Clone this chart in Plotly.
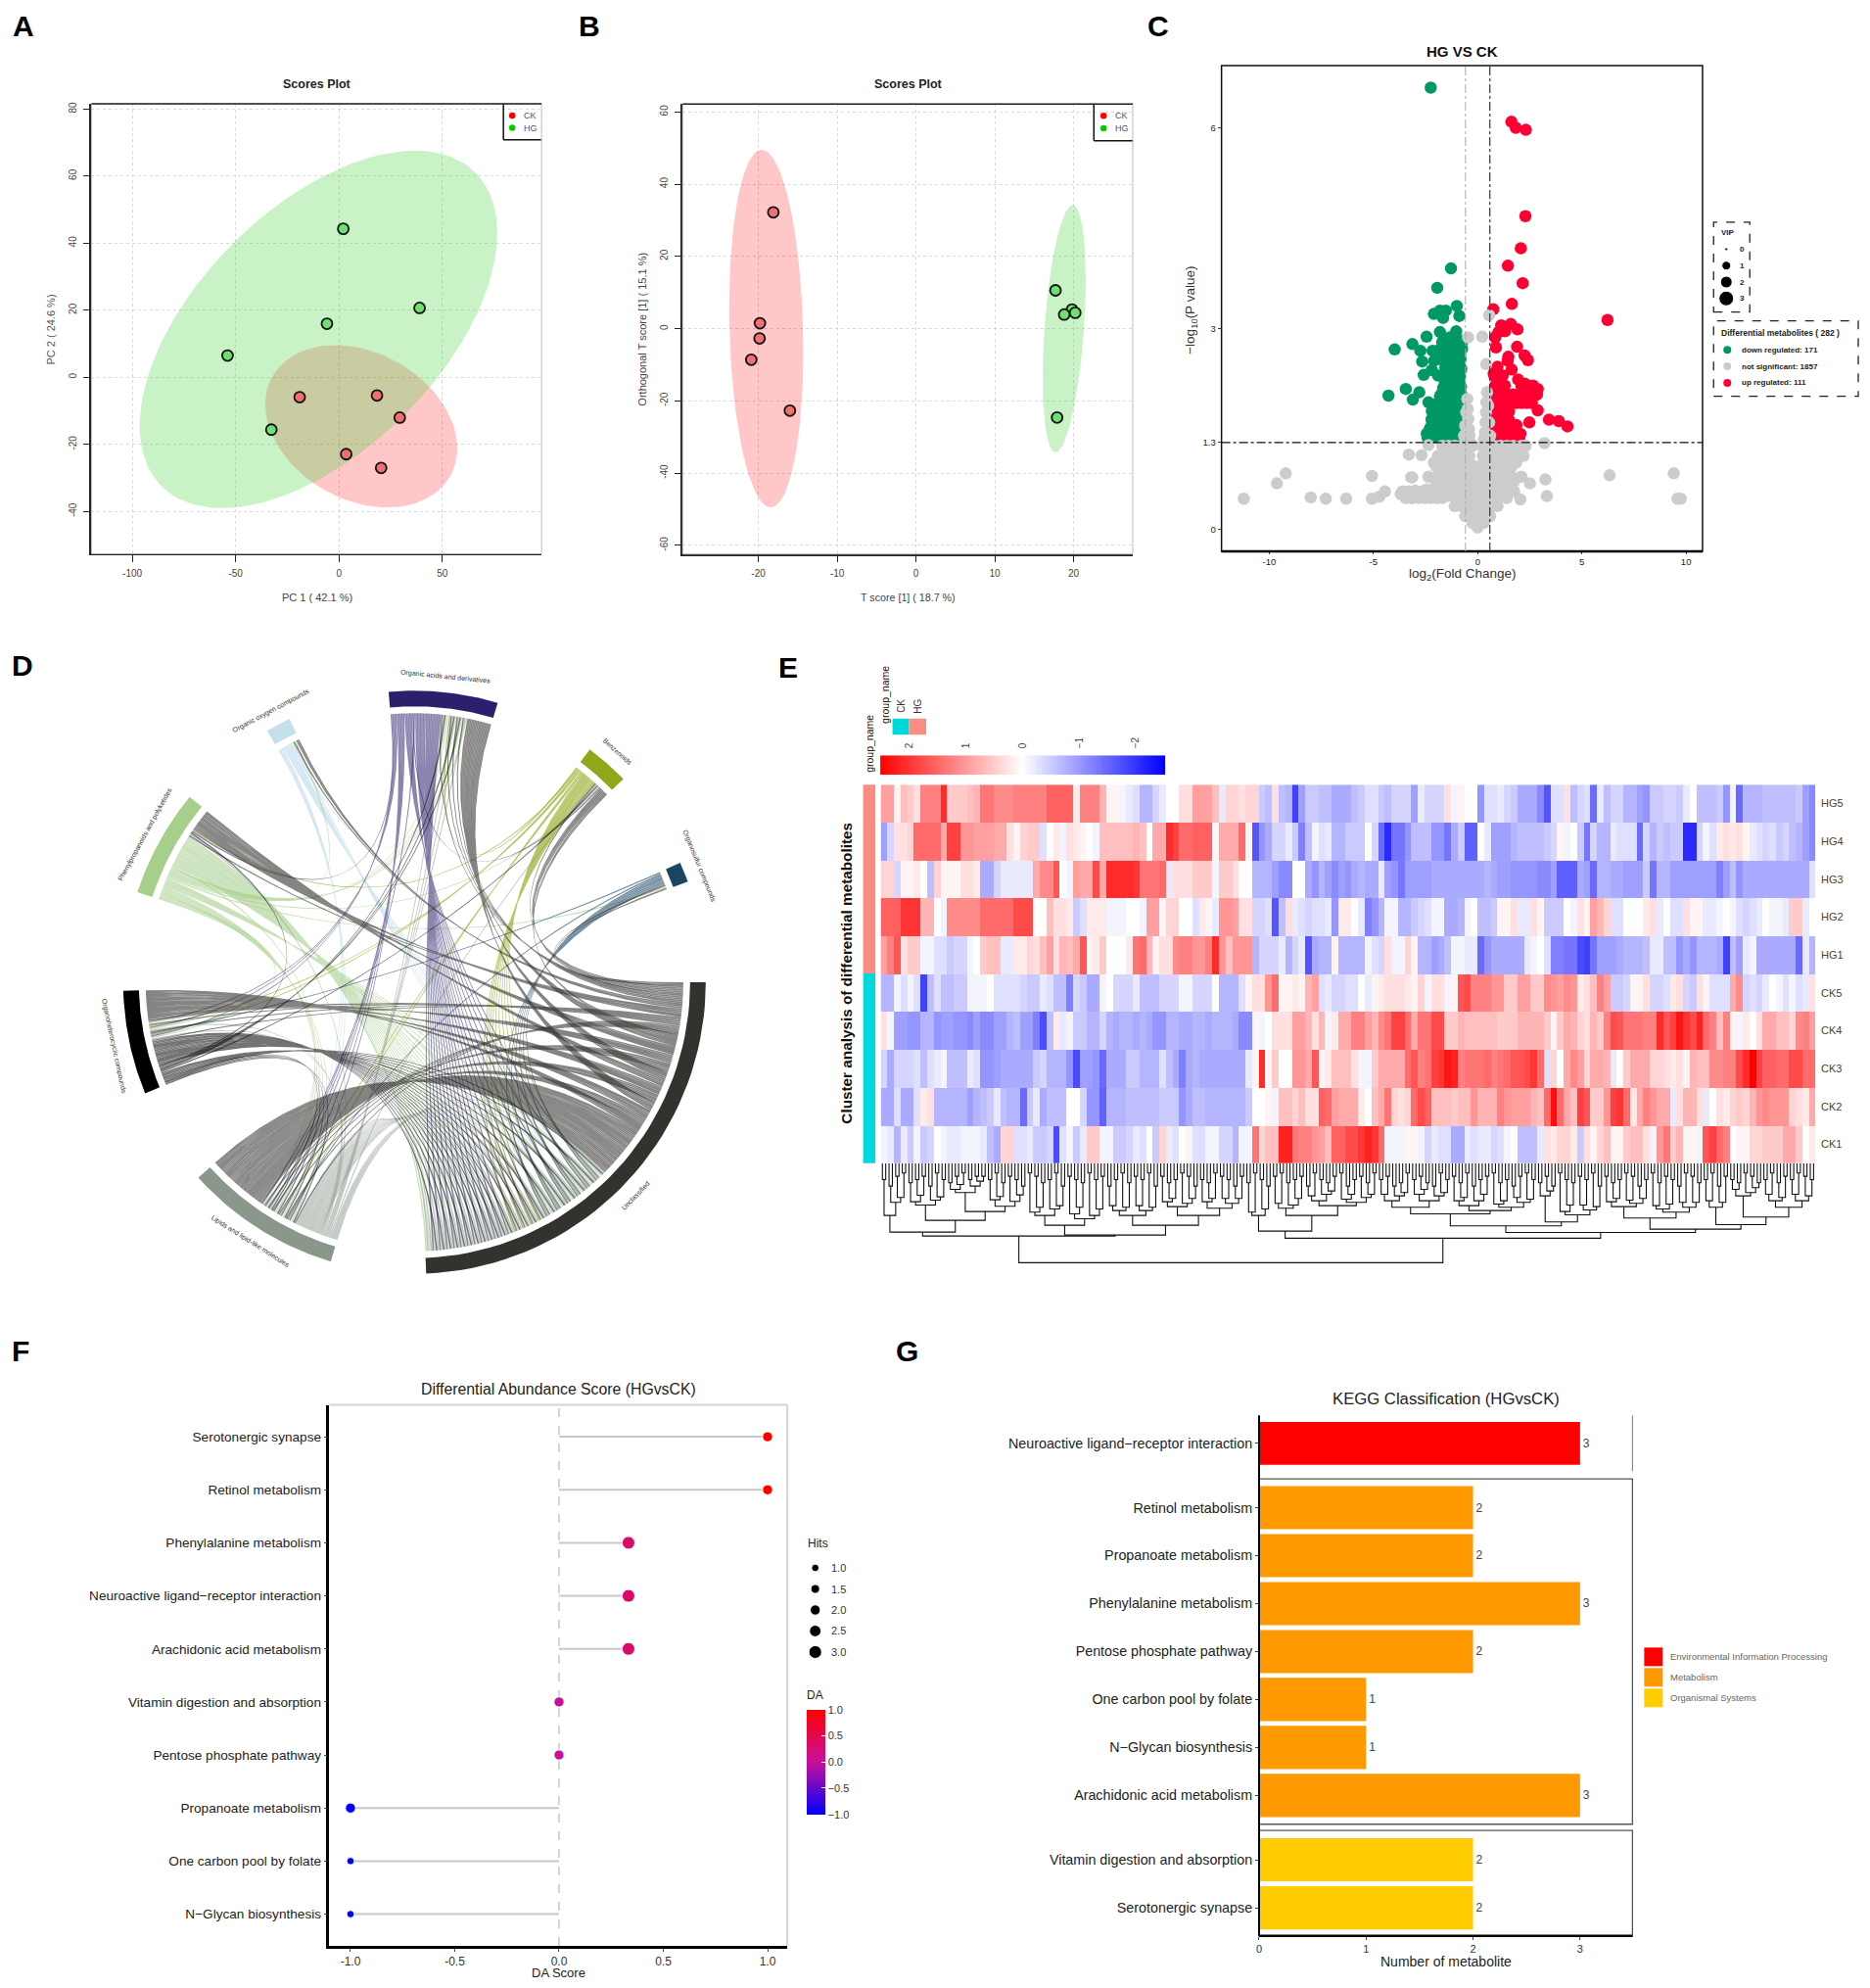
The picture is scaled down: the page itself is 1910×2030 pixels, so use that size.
import numpy as np
import plotly.graph_objects as go

W = 1910
H = 2030
FONT = "Liberation Sans"

# A: PCA scores
pca_ck_x = [-19, 18.4, 29.4, 3.5, 20.4]
pca_ck_y = [-5.9, -5.4, -12, -22.9, -27]
pca_hg_x = [2.1, 39, -5.8, -53.9, -32.7]
pca_hg_y = [44.3, 20.7, 16, 6.5, -15.6]
pca_ck_ell = [10.8, -14.6, 46.4, 24.2, -0.27]
pca_hg_ell = [-9.9, 14.3, 86.5, 53.3, 0.54]

# B: OPLS-DA scores
opls_ck_x = [-18.1, -19.8, -19.85, -20.9, -16]
opls_ck_y = [32.2, 1.5, -2.7, -8.6, -22.7]
opls_hg_x = [17.7, 19.8, 18.8, 20.2, 17.9]
opls_hg_y = [10.6, 5.3, 3.9, 4.4, -24.6]
opls_ck_ell = [-19, 0, 4.7, 49.5, -0.12]
opls_hg_ell = [18.8, 0, 2.73, 34.2, 0.4]

# C: volcano
down_x = [-2.25, -1.28, -1.94, -1, -.88, -2.1, -1.81, -1.53, -1.66, -2.45, -1.81, -1.03, -1.34, -.72, -3.13, -2.75, -3.98, -2.66, -2.16, -2.09,
          -1.81, -1.5, -1.11, -1.73, -1.27, -.95, -2.2, -2.59, -1.5, -1.11, -.8, -1.58, -1.19, -.88, -3.45, -2.8, -4.28, -3.11, -.8, -1.66,
          -1.27, -1.81, -1.42, -1.03, -2.36, -1.73, -1.34, -.95, -2.2, -1.73, -1.34, -.95, -2.2, -1.81, -1.42, -1.03, -2.25, -1.81, -1.42, -1.03,
          -2.44, -2.05, -1.66, -1.27, -.95, -1.5, -1.15, -1.9, -.75, -.85]
down_y = [6.6, 3.9, 3.61, 3.34, 3.19, 3.22, 3.27, 3.27, 3.16, 2.88, 2.95, 2.96, 2.87, 2.82, 2.77, 2.67, 2.69, 2.51, 2.67, 2.52,
          2.69, 2.72, 2.69, 2.55, 2.55, 2.55, 2.38, 2.31, 2.38, 2.4, 2.38, 2.23, 2.23, 2.23, 2.1, 2.05, 2.0, 1.94, 2.13, 2.11,
          2.11, 1.99, 1.99, 1.99, 1.9, 1.87, 1.87, 1.87, 1.77, 1.74, 1.74, 1.74, 1.65, 1.62, 1.62, 1.62, 1.53, 1.5, 1.5, 1.5,
          1.43, 1.4, 1.4, 1.4, 1.4, 2.46, 2.46, 2.3, 2.7, 2.6]
down_levels = [1.37, 1.5, 1.63, 1.76, 1.89, 2.02, 2.15, 2.28, 2.41, 2.54, 2.67, 2.8]
down_rows = [[-2.4, -2.15, -1.9, -1.65, -1.4, -1.15, -.9, -.75],
             [-2.3, -2.05, -1.8, -1.55, -1.3, -1.05, -.8],
             [-2.2, -1.95, -1.7, -1.45, -1.2, -.95, -.78],
             [-2.15, -1.9, -1.65, -1.4, -1.15, -.9, -.75],
             [-1.9, -1.65, -1.4, -1.15, -.9, -.75],
             [-1.75, -1.5, -1.25, -1, -.78],
             [-1.6, -1.35, -1.1, -.85],
             [-1.6, -1.35, -1.1, -.85],
             [-1.55, -1.3, -1.05, -.8],
             [-1.75, -1.5, -1.25, -1, -.82],
             [-1.65, -1.4, -1.15, -.9],
             [-1.7, -1.45, -1.2, -.95, -.75]]
up_x = [1.62, 1.83, 2.31, 2.29, 2.07, 1.45, 2.16, 1.64, .75, 6.23, 1.13, 1.59, 1.91, 1.31, .84, 1.0, .88, 1.89, 1.47, 2.25, 2.41, 1.44,
        .95, 1.63, .77, 1.94, 1.0, 1.16, 2.25, 2.56, 2.88, 2.17, 2.8, 2.41, 1.94, 1.7, 1.31, 1.16, 1.63, 2.09, 2.88, 1.39, 1.0, 1.08, 1.47,
        2.48, 3.42, 3.89, 4.31, 1.0, 1.39, 1.86, .92, 1.31, 1.7, 2.05, .8, .85]
up_y = [6.09, 6.0, 5.97, 4.68, 4.2, 3.94, 3.68, 3.37, 3.29, 3.13, 3.05, 3.07, 2.99, 2.96, 2.87, 2.95, 2.72, 2.73, 2.58, 2.6, 2.53, 2.52,
        2.43, 2.39, 2.33, 2.24, 2.23, 2.11, 2.18, 2.14, 2.1, 2.09, 2.01, 2.01, 1.99, 1.99, 1.96, 1.87, 1.89, 1.92, 1.78, 1.74, 1.74, 1.62, 1.65,
        1.6, 1.64, 1.62, 1.54, 1.5, 1.53, 1.56, 1.43, 1.41, 1.43, 1.43, 2.1, 1.9]
up_levels = [1.37, 1.5, 1.63, 1.76, 1.89, 2.02, 2.15, 2.3]
up_rows = [[.75, 1, 1.25, 1.5, 1.75, 2.0],
           [.8, 1.05, 1.3, 1.55, 1.8],
           [.8, 1.05, 1.3, 1.5],
           [.8, 1.05, 1.3, 1.5],
           [.85, 1.1, 1.35, 1.6, 1.85, 2.1, 2.35, 2.6],
           [.9, 1.15, 1.4, 1.7, 2.0, 2.3, 2.6, 2.85],
           [.85, 1.1, 1.3, 2.1, 2.4, 2.65],
           [.8, 1.05, 1.2]]
ns_x = [-11.22, -9.63, -9.21, -8.01, -7.29, -6.31, -5.07, -5.07, -4.72, -4.45, -3.3, -2.69, -3.19, -2.36, 2.1, 2.51, 3.25, 3.32, 3.21, 2.05,
        6.33, 9.41, 9.59, 9.74, .55, -.46, .22, .41, -3.69, -3.45, -3.2, -3.0, -2.75, -2.44, -2.28, -1.97, -3.14,
        -.5, -.48, -.45, -.42, -.4, -.35, -.55, -.6, -.65, -.55, .45, .42, .4, .38, .35, .3, .5, .55, .6, -2.36]
ns_y = [.46, .69, .84, .48, .46, .46, .8, .46, .49, .57, 1.12, 1.11, .78, .79, .79, .69, .75, .5, 1.29, .45,
        .81, .84, .46, .46, 3.2, 2.87, 2.88, 2.47, .53, .5, .47, .58, .48, .6, .53, .58, .78,
        1.95, 1.8, 1.65, 1.5, 1.4, 1.3, 1.75, 1.55, 1.4, 1.35, 2.05, 1.9, 1.75, 1.6, 1.45, 1.35, 1.85, 1.6, 1.4, 1.26]
ns_levels = [1.25, 1.17, 1.1, 1.0, .95, .8, .72, .65, .57, .5, .47, .35, .2, .1, .03]
ns_rows = [[-1.7, -1.4, -1.1, -.8, -.5, -.25, .2, .5, .8, 1.1, 1.4, 1.7, 2.1, 2.3],
           [1.95],
           [-1.9, -1.6, -1.3, -1, -.7, -.4, .25, .5, .8, 1.1, 1.4, 1.7, 2.2],
           [-2.1, 1.85],
           [-2.0, -1.7, -1.4, -1.1, -.8, -.5, -.2, .15, .45, .75, 1.05, 1.4, 1.65],
           [-1.9, -1.6, -1.3, -1, -.7, -.4, -.1, .1, .4, .7, 1, 1.3, 1.6],
           [-2.0, 1.75],
           [-1.7, -1.4, -1.1, -.8, -.5, -.2, .1, .4, .7, 1, 1.3, 1.5],
           [-3.6, -3.3, -3.0, -2.7, -2.4, -2.1, -1.85, 1.5, 1.75],
           [-1.5, -1.2, -.9, -.6, -.3, 0, .3, .6, .9, 1.2],
           [-3.45, -3.15, -2.85, -2.55, -2.25, -1.95, -1.7, 1.4],
           [-1.1, -.8, -.5, -.2, .1, .4, .7, .95],
           [-.6, -.3, 0, .3, .6],
           [-.25, .05, .3],
           [0]]
vip_levels = [0, 1, 2, 3]
vip_sizes = [3, 9, 12, 15]
volcano_labels = ["down regulated: 171", "not significant: 1857", "up regulated: 111"]

# D: chord
sector_names = ["Unclassified", "Lipids and lipid-like molecules", "Organoheterocyclic compounds", "Phenylpropanoids and polyketides",
                "Organic oxygen compounds", "Organic acids and derivatives", "Benzenoids", "Organosulfur compounds"]
sector_start = [0, 106.7, 157.6, 198, 239.6, 264.9, 307, 335.8]
sector_end = [87.7, 137.9, 178.3, 219.5, 244.6, 286.6, 315.8, 339.8]
sector_colors = ["#33322e", "#8a988c", "#000000", "#a6cf8c", "#c5e0ec", "#2e1f6d", "#8fa81a", "#1b4560"]
link_alpha = [0.6, 0.55, 0.55, 0.6, 0.75, 0.55, 0.65, 0.6]
link_counts = [[0, 50, 24, 14, 3, 20, 7, 2],
               [24, 0, 2, 1, 0, 4, 1, 0],
               [22, 4, 0, 1, 0, 3, 1, 0],
               [24, 6, 3, 0, 1, 4, 1, 1],
               [6, 3, 0, 0, 0, 1, 0, 0],
               [22, 6, 3, 1, 0, 0, 1, 0],
               [10, 2, 2, 1, 0, 1, 0, 0],
               [6, 1, 1, 0, 0, 0, 0, 0]]

# E: heatmap, z-scores x 10
heat_rows = ["HG5", "HG4", "HG3", "HG2", "HG1", "CK5", "CK4", "CK3", "CK2", "CK1"]
hg5 = [9, 9, 1, 6, 5, 3, 12, 12, 12, 20, 5, 5, 5, 6, 7, 13, 13, 11, 11, 11, 12, 12, 12, 12, 12, 15, 15, 15, 15, 2, 12, 12, 12, 7, 1, 1, -1, -2, -3, -7, -7, -4, -2, 0, 0, 3, 3, 9, 9, 9, 6, -2, 4, 4, 3, 4, 4, -5, -6,
       3, -6, -7, -18, -9, -5, -5, -6, -6, -8, -8, -8, -6, -5, -3, -3, -5, -6, -4, -4, -4, -9, -2, -4, -4, -4, 3, -1, 1, 0, 0, -10, -3, -3, -2, -4, -5, -8, -8, -8, -11, -16,
       -3, -3, 3, -6, -4, -3, -14, -2, -6, -4, -4, -7, -7, -9, -10, -5, -5, -4, -4, -5, -2, 0, -6, -6, -6, -5, -10, -1, -14, -7, -7, -7, -6, -6, -6, -6, -6, -5, -9, -11]
hg4 = [-9, -4, 3, 3, 4, 14, 14, 14, 14, 8, 18, 18, 10, 10, 9, 9, 9, 8, 8, 3, 1, 4, 5, 5, -3, 0, 2, -1, 3, 2, 1, 0, -1, 6, 6, 6, 6, 6, 7, 6, 0, 8, 8, 20, 18, 14, 14, 15, 15, 15, 1, 8, 8, 8, 14, 1, -16, -10, -8,
       -4, -4, -2, -5, -12, -6, -1, -3, -2, -7, -7, -5, -5, -5, 0, -4, -14, -20, -13, -13, -10, -6, -6, -6, -10, -10, -13, -8, -5, -15, -15, 0, -2, -9, -9, -9, -7, -6, -6, -6, -6, -5,
       -4, 1, -1, 0, -5, -13, -4, -7, -7, -2, -3, -3, -3, -14, -4, -7, -5, -6, -5, -5, -20, -20, -4, -1, -3, 2, 3, 2, 3, 1, -2, -3, -4, -3, -5, -4, -6, -7, -9, -11]
hg3 = [4, 4, -4, 1, 1, 2, 0, -6, 4, 1, 1, 1, 3, 3, 2, -8, -8, -4, -2, -2, -2, -2, -2, 8, 11, 11, 16, 0, -1, 9, 8, 8, 17, 8, 20, 20, 20, 20, 19, 13, 13, 13, 14, -2, 3, 3, 3, 5, 5, 5, -1, 5, 5, 3, 0, 0, -7, -7, -7,
       -9, -11, -11, 0, 0, -8, -10, -7, -9, -11, -9, -10, -8, -7, -8, -8, -2, -9, -10, -13, -9, -9, -9, -9, -8, -8, -8, -8, -8, -8, -8, -8, -7, -8, -9, -9, -10, -10, -10, -10, -11, -11,
       -9, -15, -15, -15, -8, -9, -14, -7, -7, -8, -8, -9, -9, -9, -5, -13, -7, -7, -9, -9, -9, -9, -9, -9, -9, -12, -9, -6, -10, -8, -8, -8, -8, -8, -8, -8, -8, -8, -8, -3]
hg2 = [15, 15, 15, 19, 19, 19, 7, 7, 0, -1, 11, 11, 11, 11, 11, 14, 14, 14, 14, 14, 17, 17, 17, 0, 0, 6, 3, 3, 2, -5, -3, 2, 2, 2, -1, -1, -1, 0, 0, -1, 9, 9, 1, 4, 4, 0, 0, -3, 2, 1, -2, 10, 10, 9, 3, 3, -4, -4, -3,
       -16, -6, 3, -2, -3, -4, -3, -3, -2, -10, 2, 2, 0, -2, -12, -10, -7, -1, -1, -7, -7, -5, -4, -3, -1, -1, -8, -8, -7, -1, 0, -6, -6, -5, 1, 1, 3, -2, -2, 3, 1, -5,
       -5, -5, 0, -1, 3, 1, 9, 7, 4, -3, -3, 0, 0, 0, 2, 3, -2, 0, -3, -3, 3, 1, 1, -2, -2, -1, 0, -1, -3, -4, -3, -2, 0, -1, -1, -2, 5, 5, -2, 0]
hg1 = [9, 12, 16, 3, 5, 5, -1, -1, -3, -3, -5, -4, -4, -1, 0, 5, 6, 6, -2, -2, 2, 2, 4, 3, 6, 9, 3, 7, 6, 8, 16, 1, 2, 5, 0, 0, 0, 2, 13, 14, 7, 1, 3, 3, 11, 12, 12, 10, 10, 12, 20, 10, 6, 10, 10, 10, -7, -4, -4,
       -4, -2, -7, -4, -2, -16, -8, -7, -7, 1, -7, -7, -7, -7, -1, -3, -4, 3, -1, -1, 4, 1, -7, -7, -9, -8, -6, -1, -1, -2, -2, -14, -10, -8, -8, -8, -8, -8, -2, -1, 0, -3,
       -12, -12, -13, -13, -17, -18, -13, -9, -9, -9, -8, -7, -7, -7, -6, -2, -2, -6, -6, -10, -8, -10, -7, -7, -7, -8, -18, -6, -9, -2, -1, -8, -8, -8, -8, -8, -8, -14, -2, -7]
ck5 = [-7, -7, -1, -3, -1, -3, -18, -6, -3, -6, -6, -5, -5, -1, -1, -1, 0, -3, -3, -3, -3, -4, -5, -5, -2, -3, -6, -6, -12, -4, -5, -8, -8, -1, 0, -4, -4, -4, -2, -6, -6, -6, -4, -4, -4, -1, -1, -4, -4, -4, 0, -7, -7, -7, -3, 1, 3, 3, 10,
       14, 1, 1, 2, 1, 7, 9, -3, -2, -4, -4, -3, -3, 0, -2, 1, 2, 3, 3, 3, 2, 1, 4, -1, 3, 3, -1, 1, 16, 17, 12, 12, 12, 10, 10, 5, 5, 9, 9, 5, 5, 11,
       10, 9, 11, 10, 2, 3, 6, 12, 9, -5, -5, -4, 1, 1, 3, -4, -4, -3, 2, 3, -4, -5, 3, 1, -3, -3, -3, 8, 11, -4, -3, -4, -2, 0, -1, -3, -1, -3, -2, 3]
ck4 = [3, -1, -9, -9, -10, -10, -7, -7, -10, -9, -9, -10, -10, -11, -9, -11, -11, -9, -9, -7, -6, -9, -9, -12, -17, -6, 2, -2, -1, -5, -5, -7, -7, -4, -7, -8, -7, -7, -8, -7, -8, -10, -10, -7, -7, -8, -8, -7, -7, -8, -7, -7, -7, -8, -11, -11, 1, -1, 0,
       3, 3, 3, 9, 9, 7, 3, 7, -1, 2, 8, 8, 12, 12, 9, 7, 11, 13, 18, 18, 14, 8, 13, 13, 17, 17, 5, 5, 7, 6, 6, 6, 6, 6, 5, 5, 5, 7, 7, 7, 7, 5,
       1, 5, 8, 7, 4, 3, 7, 5, 12, 17, 16, 13, 13, 13, 12, 12, 20, 16, 18, 22, 19, 17, 21, 14, 12, 6, 12, 1, -1, 2, 0, 3, 8, 8, 6, 6, 4, 11, 12, 9]
ck3 = [-4, -8, -4, -4, -4, -3, -6, -3, -2, -1, -6, -6, -6, -2, -3, -10, -10, -9, -8, -8, -8, -8, -8, -5, -4, -7, -7, -7, -10, -17, -9, -9, -10, -14, -8, -8, -8, -5, -5, -7, -7, -7, -3, -6, -8, -12, -8, -7, -8, -8, -8, -8, -8, -8, -8, -2, 1, 20, 1,
       5, 0, 0, 10, 10, 8, 16, 1, 2, 6, 6, 6, 3, -1, -1, 5, 8, 8, 8, 8, 14, 16, 12, 13, 18, 19, 22, 21, 12, 13, 13, 13, 14, 12, 13, 14, 16, 16, 17, 19, 14, -3,
       4, 0, 8, 11, 9, 4, 8, 8, 7, -2, 0, 5, 8, 8, 8, 4, 4, 3, 2, 3, 1, 7, 6, 6, 11, 11, 12, 12, 17, 20, 24, 18, 15, 15, 14, 14, 17, 17, 14, 14]
ck2 = [-8, -8, -3, -8, -8, -3, 2, 3, -7, -7, -7, -7, -7, -9, -7, -6, -5, -2, -6, -7, -7, -14, -5, -2, -8, -6, -6, -6, 0, 0, -4, -10, -10, -15, -7, -7, -7, -6, -6, -6, -6, -6, -5, -5, -5, -10, -8, -6, -6, -7, -7, -7, -7, -7, -7, -5, 0, 0, 1,
       -1, 6, 6, 4, 6, 3, 3, 15, 14, 9, 8, 8, 8, 2, 0, 6, 8, 13, 4, 3, 4, 14, 17, 15, 6, 6, 6, 5, 6, 6, 10, 7, 7, 7, 12, 10, 9, 9, 9, 7, 6, 14,
       23, 14, 8, 6, 18, 16, 5, 5, 10, 18, 19, 14, 2, 8, 12, 10, 8, 8, -2, 3, 7, 7, 3, -2, 0, 3, 2, 4, 5, 4, 7, 10, 11, 10, 10, 10, 4, 3, 2, 8]
ck1 = [-1, -2, -7, -2, -5, -1, -5, -4, 0, -1, -2, -2, -1, -1, -1, -2, -6, -8, 4, 4, -3, -3, -2, -5, -5, -4, -17, -3, -1, -5, -2, 5, 5, -1, -1, -5, -5, -4, -2, -3, 0, -5, 4, -2, -3, 0, 1, -3, -3, -1, -1, -4, -4, -7, -1, -1, 13, 4, 6,
       6, 21, 21, 13, 12, 12, 10, 9, 6, 15, 15, 17, 17, 19, 21, 19, 14, -1, -1, -1, 1, 1, -1, -4, -2, -3, -3, -8, -8, -2, -3, -2, -2, -4, -3, -1, 0, -6, -6, -6, -2, 3,
       2, 4, 4, 2, -5, 3, 1, 4, 6, 1, 1, 5, 6, 6, 3, -1, 10, 13, 5, 7, 1, 1, -1, 16, 18, 14, 12, 0, 1, 1, 4, 4, 5, 5, 5, 8, 8, 5, 0, 2]
colorbar_ticks = [2, 1, 0, -1, -2]

# dendrogram: (height, left, right) or (height, number of columns)
dend_tree = (30.5,
             (22.3,
              (21.1,
               (16, (10.5, 1), (12, 3)),
               (17.5, (12.8, 6), (14.8, (9, 6), (13.2, 6)))),
              (22,
               (19, (16, 6), (17, 6)),
               (19, (16, 8), (16, (13.3, 6), (13.8, 7))))),
             (23,
              (20.8,
               (16, 4),
               (16, (13.8, 5), (13, 11))),
              (21.2,
               (19.2,
                (15.5, (13.5, 11), (14.5, 13)),
                (18, (10, 3), (15.8, 7))),
               (20.2,
                (16.8, (13.3, 7), (15, 8)),
                (18.8, (13.5, 4), (16.5, (10, 5), (13.5, 8)))))))
pair_d = [5, 7, 4, 3, 6, 5, 4, 7, 3, 5, 6, 4, 3, 5, 7, 4, 5, 3, 6, 4, 5, 7, 3, 4, 6, 5, 3, 7, 4, 5, 6, 3, 5, 4, 7, 5, 3, 6, 4, 5, 3, 7, 4, 6, 5, 3, 4, 7, 5, 6, 3, 4, 5, 7, 4,
          6, 3, 5, 7, 4, 3, 6, 5, 4, 7, 3, 5, 6, 4, 3, 7, 5, 4, 6, 3, 5, 4, 7, 6, 3, 5, 4, 6, 7, 3, 5, 4, 6, 3, 7, 5, 4, 3, 6, 5, 7, 4, 3, 5, 6,
          4, 7, 3, 5, 6, 4, 5, 3, 7, 4, 6, 5, 3, 4, 7, 5, 3, 6, 4, 5, 7, 3, 4, 6, 5, 3, 7, 4, 5, 6, 3, 4, 7, 5, 3, 6, 4, 5, 3, 4, 5]

# F: differential abundance
da_pathways = ["Serotonergic synapse", "Retinol metabolism", "Phenylalanine metabolism", "Neuroactive ligand\u2212receptor interaction",
               "Arachidonic acid metabolism", "Vitamin digestion and absorption", "Pentose phosphate pathway", "Propanoate metabolism",
               "One carbon pool by folate", "N\u2212Glycan biosynthesis"]
da_scores = [1, 1, 0.333, 0.333, 0.333, 0, 0, -1, -1, -1]
da_hits = [2, 2, 3, 3, 3, 2, 2, 2, 1, 1]
hits_legend = [1.0, 1.5, 2.0, 2.5, 3.0]

# G: KEGG classification
kegg_env = ["Neuroactive ligand\u2212receptor interaction"]
kegg_env_n = [3]
kegg_met = ["Retinol metabolism", "Propanoate metabolism", "Phenylalanine metabolism", "Pentose phosphate pathway",
            "One carbon pool by folate", "N\u2212Glycan biosynthesis", "Arachidonic acid metabolism"]
kegg_met_n = [2, 2, 3, 2, 1, 1, 3]
kegg_org = ["Vitamin digestion and absorption", "Serotonergic synapse"]
kegg_org_n = [2, 2]
kegg_classes = ["Environmental Information Processing", "Metabolism", "Organismal Systems"]
kegg_colors = ["#ff0000", "#ff9900", "#ffcc00"]


def xd(l, r):
    return [l / W, r / W]


def yd(t, b):
    return [1 - b / H, 1 - t / H]


annotations = []
shapes = []


def txt(x, y, s, size=10, color="#333333", bold=False, angle=0, anchor="center"):
    annotations.append(dict(x=x / W, y=1 - y / H, xref="paper", yref="paper", text="<b>%s</b>" % s if bold else s,
                            showarrow=False, textangle=angle, xanchor=anchor, yanchor="middle",
                            font=dict(size=size, color=color, family=FONT)))


def rect(l, t, r, b, fill=None, line=None, width=1, dash="solid"):
    shapes.append(dict(type="rect", xref="paper", yref="paper", x0=l / W, x1=r / W, y0=1 - b / H, y1=1 - t / H,
                       fillcolor=fill if fill else "rgba(0,0,0,0)",
                       line=dict(color=line if line else "rgba(0,0,0,0)", width=width if line else 0, dash=dash)))


def hv(x0, y0, x1, y1, color="#000000", width=1, dash="solid"):
    shapes.append(dict(type="line", xref="paper", yref="paper", x0=x0 / W, x1=x1 / W, y0=1 - y0 / H, y1=1 - y1 / H,
                       line=dict(color=color, width=width, dash=dash)))


def ellipse(p):
    t = np.linspace(0, 2 * np.pi, 120)
    return p[0] + p[2] * np.cos(t), p[1] + p[3] * np.cos(t - np.arccos(p[4]))


def expand(xs, ys, levels, rows):
    out_x = list(xs)
    out_y = list(ys)
    for lev, row in zip(levels, rows):
        out_x += row
        out_y += [lev] * len(row)
    return out_x, out_y


fig = go.Figure()


def scores_traces(ax, ay, ck_e, hg_e, ck_x, ck_y, hg_x, hg_y):
    ex, ey = ellipse(ck_e)
    fig.add_trace(go.Scatter(x=ex, y=ey, xaxis=ax, yaxis=ay, mode="lines", fill="toself", line=dict(width=0), fillcolor="rgba(255,0,0,0.22)"))
    ex, ey = ellipse(hg_e)
    fig.add_trace(go.Scatter(x=ex, y=ey, xaxis=ax, yaxis=ay, mode="lines", fill="toself", line=dict(width=0), fillcolor="rgba(75,211,68,0.3)"))
    fig.add_trace(go.Scatter(x=ck_x, y=ck_y, xaxis=ax, yaxis=ay, mode="markers",
                             marker=dict(size=11, color="#ee7070", line=dict(color="#111111", width=1.8))))
    fig.add_trace(go.Scatter(x=hg_x, y=hg_y, xaxis=ax, yaxis=ay, mode="markers",
                             marker=dict(size=11, color="#6fdf6f", line=dict(color="#111111", width=1.8))))


scores_traces("x", "y", pca_ck_ell, pca_hg_ell, pca_ck_x, pca_ck_y, pca_hg_x, pca_hg_y)
scores_traces("x2", "y2", opls_ck_ell, opls_hg_ell, opls_ck_x, opls_ck_y, opls_hg_x, opls_hg_y)

# volcano
vx, vy = expand(down_x, down_y, down_levels, down_rows)
fig.add_trace(go.Scatter(x=vx, y=vy, xaxis="x3", yaxis="y3", mode="markers", marker=dict(size=12.5, color="#009966")))
vx, vy = expand(up_x, up_y, up_levels, up_rows)
fig.add_trace(go.Scatter(x=vx, y=vy, xaxis="x3", yaxis="y3", mode="markers", marker=dict(size=12.5, color="#ff0033")))
vx, vy = expand(ns_x, ns_y, ns_levels, ns_rows)
fig.add_trace(go.Scatter(x=vx, y=vy, xaxis="x3", yaxis="y3", mode="markers", marker=dict(size=12.5, color="#cccccc")))

# heatmap
heat = np.array([hg5, hg4, hg3, hg2, hg1, ck5, ck4, ck3, ck2, ck1]) / 10
blue_white_red = [[0, "#0000ff"], [0.5, "#ffffff"], [1, "#ff0000"]]
fig.add_trace(go.Heatmap(z=heat, x=list(range(heat.shape[1])), y=heat_rows, xaxis="x4", yaxis="y4", zmin=-2.4, zmax=2.4,
                         colorscale=blue_white_red, showscale=False))
cbar_vals = np.linspace(2.52, -2.52, 120)
fig.add_trace(go.Heatmap(z=[cbar_vals], x=cbar_vals, y=[0], xaxis="x5", yaxis="y5", zmin=-2.52, zmax=2.52,
                         colorscale=blue_white_red, showscale=False))

# dendrogram
seg_x = []
seg_y = []


def seg(x0, d0, x1, d1, d):
    seg_x.extend([x0, x0, x1, x1, None])
    seg_y.extend([d0, d, d, d1, None])


def comb(lo, n, top):
    if n == 1:
        d = min(pair_d[lo], top)
        seg(lo - 0.25, 0, lo + 0.25, 0, d)
        return lo, d
    n1 = n // 2
    t1 = max(2.5, top - 1 - (pair_d[lo] % 3) * 0.5)
    t2 = max(2.5, top - 1 - (pair_d[lo + n1] % 3) * 0.5)
    x0, d0 = comb(lo, n1, t1)
    x1, d1 = comb(lo + n1, n - n1, t2)
    seg(x0, d0, x1, d1, top)
    return (x0 + x1) / 2, top


def walk(node, lo):
    if len(node) == 2:
        x, d = comb(lo, node[1], node[0])
        return x, d, lo + node[1]
    x0, d0, mid = walk(node[1], lo)
    x1, d1, hi = walk(node[2], mid)
    seg(x0, d0, x1, d1, node[0])
    return (x0 + x1) / 2, node[0], hi


walk(dend_tree, 0)
fig.add_trace(go.Scatter(x=seg_x, y=seg_y, xaxis="x6", yaxis="y6", mode="lines", line=dict(color="#111111", width=1.1)))

# F lollipop
stem_x = []
stem_y = []
for name, v in zip(da_pathways, da_scores):
    stem_x += [0, v, None]
    stem_y += [name, name, None]
fig.add_trace(go.Scatter(x=stem_x, y=stem_y, xaxis="x7", yaxis="y7", mode="lines", line=dict(color="#c8c8c8", width=2)))
da_scale = [[0, "#0000ff"], [0.5, "#c8109c"], [1, "#ff0000"]]
fig.add_trace(go.Scatter(x=da_scores, y=da_pathways, xaxis="x7", yaxis="y7", mode="markers",
                         marker=dict(size=[5 + 2.7 * h for h in da_hits], opacity=1, color=da_scores, cmin=-1, cmax=1, colorscale=da_scale,
                                     showscale=True,
                                     colorbar=dict(x=822 / W, xanchor="left", y=1 - 1799 / H, yanchor="middle", lenmode="pixels", len=107,
                                                   thickness=19, outlinewidth=0, ticks="inside", ticklen=4, tickcolor="#ffffff",
                                                   tickvals=[-1, -0.5, 0, 0.5, 1], ticktext=["\u22121.0", "\u22120.5", "0.0", "0.5", "1.0"],
                                                   tickfont=dict(size=11, color="#333333"), xpad=0, ypad=0))))

# G bars
for cats, vals, col, ax, ay in [(kegg_env, kegg_env_n, kegg_colors[0], "x8", "y8"),
                                (kegg_met, kegg_met_n, kegg_colors[1], "x9", "y9"),
                                (kegg_org, kegg_org_n, kegg_colors[2], "x10", "y10")]:
    fig.add_trace(go.Bar(x=vals, y=cats, orientation="h", xaxis=ax, yaxis=ay, width=0.9, marker=dict(color=col, line=dict(width=0)),
                         text=vals, textposition="outside", cliponaxis=False, textfont=dict(size=12, color="#444444")))

# D chord, drawn in figure pixels on the overlay axes
CX, CY = 421, 1002
R_OUT, R_IN, R_LINK = 298, 282, 275


def polar(a, r):
    t = np.radians(a)
    return CX + r * np.cos(t), CY + r * np.sin(t)


def bezier(a0, a1):
    p0 = np.array(polar(a0, R_LINK))
    p3 = np.array(polar(a1, R_LINK))
    p1 = np.array(polar(a0, R_LINK * 0.38))
    p2 = np.array(polar(a1, R_LINK * 0.38))
    t = np.linspace(0, 1, 18)[:, None]
    return (1 - t) ** 3 * p0 + 3 * (1 - t) ** 2 * t * p1 + 3 * (1 - t) * t ** 2 * p2 + t ** 3 * p3


n_sec = len(sector_names)
out_tot = [sum(link_counts[i]) for i in range(n_sec)]
in_tot = [sum(link_counts[j][i] for j in range(n_sec)) for i in range(n_sec)]
slot = [(sector_end[i] - sector_start[i]) / (out_tot[i] + in_tot[i]) for i in range(n_sec)]

# incoming ends are mixed between sources, one from each in turn
in_slots = {}
for i in range(n_sec):
    left = [link_counts[j][i] for j in range(n_sec)]
    pos = out_tot[i]
    while sum(left) > 0:
        for j in range(n_sec):
            if left[j] > 0:
                in_slots.setdefault((j, i), []).append(pos)
                left[j] -= 1
                pos += 1

# outgoing ends go in small bunches so the fans show gaps and cross each other
for s in [4, 3, 1, 6, 7, 5, 0, 2]:
    rgb = tuple(int(sector_colors[s][k:k + 2], 16) for k in (1, 3, 5))
    order = sorted(range(n_sec), key=lambda d: -((sector_start[d] - sector_start[s]) % 360))
    left = {d: link_counts[s][d] for d in order}
    used = {d: 0 for d in order}
    paths = {d: ([], []) for d in order}
    pos = 0
    while sum(left.values()) > 0:
        for d in order:
            for _ in range(min(5, left[d])):
                k = used[d]
                a0 = sector_start[s] + pos * slot[s]
                a1 = a0 + slot[s] * 0.9
                b0 = sector_start[d] + in_slots[(s, d)][k] * slot[d]
                b1 = b0 + slot[d] * 0.9
                c1 = bezier(a1, b0)
                c2 = bezier(b1, a0)
                paths[d][0].extend(list(c1[:, 0]) + list(c2[:, 0]) + [c1[0, 0], None])
                paths[d][1].extend(list(c1[:, 1]) + list(c2[:, 1]) + [c1[0, 1], None])
                used[d] += 1
                left[d] -= 1
                pos += 1
    for d in order:
        if paths[d][0]:
            fig.add_trace(go.Scatter(x=paths[d][0], y=paths[d][1], xaxis="x11", yaxis="y11", mode="lines", fill="toself", line=dict(width=0),
                                     fillcolor="rgba(%d,%d,%d,%s)" % (rgb + (link_alpha[s],))))

for i in range(n_sec):
    ang = np.linspace(sector_start[i], sector_end[i], 40)
    px, py = polar(ang, R_OUT)
    qx, qy = polar(ang[::-1], R_IN)
    fig.add_trace(go.Scatter(x=list(px) + list(qx), y=list(py) + list(qy), xaxis="x11", yaxis="y11", mode="lines", fill="toself",
                             line=dict(width=0), fillcolor=sector_colors[i]))
    mid = (sector_start[i] + sector_end[i]) / 2
    lx, ly = polar(mid, 314)
    txt(lx, ly, sector_names[i], size=7, color="#333333", angle=mid - 90 if mid < 180 else mid - 270)

# legends
for lx, ly in [(521, 116), (1126, 116.4)]:
    fig.add_trace(go.Scatter(x=[lx, lx], y=[ly, ly + 12.7], xaxis="x11", yaxis="y11", mode="markers",
                             marker=dict(size=6.5, color=["#ff0000", "#00cc00"])))
    txt(lx + 10, ly, "CK", size=9, color="#555555", anchor="left")
    txt(lx + 10, ly + 12.7, "HG", size=9, color="#555555", anchor="left")
hv(512, 104, 512, 141, "#111111", 1.5)
hv(512, 141, 551, 141, "#111111", 1.5)
hv(1116, 104, 1116, 142, "#111111", 1.5)
hv(1116, 142, 1156, 142, "#111111", 1.5)

rect(1750, 225, 1787, 317, line="#222222", width=1.3, dash="dash")
txt(1756, 236, "VIP", size=8, color="#222222", bold=True, anchor="left")
fig.add_trace(go.Scatter(x=[1763] * len(vip_levels), y=[252.7 + 16.8 * k for k in range(len(vip_levels))], xaxis="x11", yaxis="y11",
                         mode="markers", marker=dict(size=vip_sizes, opacity=1, color="#000000")))
for k, v in enumerate(vip_levels):
    txt(1779, 252.7 + 16.8 * k, str(v), size=8, color="#222222", bold=True)
rect(1750, 326, 1898, 403, line="#222222", width=1.3, dash="dash")
txt(1756, 338, "Differential metabolites ( 282 )", size=8.5, color="#222222", bold=True, anchor="left")
fig.add_trace(go.Scatter(x=[1764] * 3, y=[355.6 + 16.85 * k for k in range(3)], xaxis="x11", yaxis="y11", mode="markers",
                         marker=dict(size=8, color=["#009966", "#cccccc", "#ff0033"])))
for k, s in enumerate(volcano_labels):
    txt(1777, 355.6 + 16.85 * k, s, size=8, color="#222222", bold=True, anchor="left")

txt(833.5, 1576, "Hits", size=12, color="#222222")
txt(831, 1731, "DA", size=12, color="#222222")
fig.add_trace(go.Scatter(x=[831] * len(hits_legend), y=[1600.6 + 21.5 * k for k in range(len(hits_legend))], xaxis="x11", yaxis="y11",
                         mode="markers", marker=dict(size=[5 + 2.7 * h for h in hits_legend], opacity=1, color="#000000")))
for k, h in enumerate(hits_legend):
    txt(855, 1600.6 + 21.5 * k, "%.1f" % h, size=11, color="#333333")

for k, (name, col) in enumerate(zip(kegg_classes, kegg_colors)):
    rect(1679, 1682 + 21 * k, 1698, 1701 + 21 * k, fill=col)
    txt(1704, 1691.5 + 21 * k, name, size=9.5, color="#666666", anchor="left")

# E extras
rect(880, 800, 892.5, 993, fill="#fa8c82")
rect(880, 993, 892.5, 1187, fill="#00d8dc")
rect(910, 732.5, 927, 749, fill="#00d8dc")
rect(927, 732.5, 944.5, 749, fill="#fa8c82")
txt(919, 720, "CK", size=10, angle=-90)
txt(936, 720, "HG", size=10, angle=-90)
txt(903, 708, "group_name", size=10.5, color="#111111", angle=-90)
txt(887, 758, "group_name", size=10.5, color="#111111", angle=-90)
txt(862, 993, "Cluster analysis of differential metabolites", size=15.3, color="#111111", bold=True, angle=-90)

# titles and labels
for s, x, y in [("A", 21, 25), ("B", 600, 25), ("C", 1182, 25), ("D", 20, 678), ("E", 803, 680), ("F", 18, 1379), ("G", 925, 1379)]:
    txt(x, y, s, size=30, color="#000000", bold=True)
txt(321.6, 84.5, "Scores Plot", size=12.5, color="#222222", bold=True)
txt(926, 84.5, "Scores Plot", size=12.5, color="#222222", bold=True)
txt(321.6, 609, "PC 1 ( 42.1 %)", size=11, color="#444444")
txt(926, 609, "T score [1] ( 18.7 %)", size=10.7, color="#444444")
txt(49, 335, "PC 2 ( 24.6 %)", size=11, color="#555555", angle=-90)
txt(654, 334, "Orthogonal T score [1] ( 15.1 %)", size=11, color="#444444", angle=-90)
txt(1493, 51, "HG VS CK", size=15, color="#111111", bold=True)
txt(1493, 585, "log<sub>2</sub>(Fold Change)", size=13.5, color="#333333")
txt(1216, 315, "\u2212log<sub>10</sub>(P value)", size=13.5, color="#333333", angle=-90)
txt(568, 1418, "Differential Abundance Score (HGvsCK)", size=15.8, color="#222222")
txt(568.5, 2014, "DA Score", size=13, color="#222222")
txt(1476.5, 1428, "KEGG Classification (HGvsCK)", size=16.7, color="#222222")
txt(1476, 2003, "Number of metabolite", size=14, color="#222222")

# frames
rect(90.6, 104, 551, 564, line="#bbbbbb", width=1)
hv(90.6, 104, 551, 104, "#222222", 1.5)
rect(695.4, 104.3, 1155.8, 564.3, line="#bbbbbb", width=1)
hv(695.4, 104.3, 1155.8, 104.3, "#222222", 1.5)
rect(1246.6, 65, 1738.7, 561.5, line="#111111", width=1.5)
hv(1246.6, 561.5, 1738.7, 561.5, "#000000", 2.5)
hv(334, 1434, 802.5, 1434, "#d4d4d4", 2)
hv(802.5, 1434, 802.5, 1987, "#d4d4d4", 2)
hv(1667, 1444.6, 1667, 1502, "#777777", 1)
rect(1285, 1509.6, 1667, 1862.6, line="#555555", width=1.3)
rect(1285, 1869, 1667, 1976.7, line="#555555", width=1.3)
hv(1285, 1444.6, 1285, 1976.7, "#000000", 2)
hv(1285, 1976.7, 1667, 1976.7, "#000000", 2.5)

# reference lines on the data axes
shapes.append(dict(type="line", xref="x3", yref="y3 domain", x0=-0.585, x1=-0.585, y0=0, y1=1, line=dict(color="#aaaaaa", width=1, dash="dashdot")))
shapes.append(dict(type="line", xref="x3", yref="y3 domain", x0=0.585, x1=0.585, y0=0, y1=1, line=dict(color="#333333", width=1.2, dash="dashdot")))
shapes.append(dict(type="line", xref="x3 domain", yref="y3", x0=0, x1=1, y0=1.3, y1=1.3, line=dict(color="#111111", width=1.3, dash="dashdot")))
shapes.append(dict(type="line", xref="x7", yref="y7 domain", x0=0, x1=0, y0=0, y1=1, line=dict(color="#aaaaaa", width=1, dash="dash"), layer="below"))

tick9 = dict(size=10, color="#444444", family=FONT)
grid = dict(showgrid=True, gridcolor="#d8d8d8", griddash="dot", gridwidth=1, zeroline=False)


def score_axes(xdom, ydom, xr, yr, xticks, yticks, anchor_x, anchor_y):
    xa = dict(domain=xdom, range=xr, anchor=anchor_y, tickvals=xticks, ticktext=[str(v) for v in xticks], tickfont=tick9,
              ticks="outside", ticklen=7, tickcolor="#222222", ticklabelstandoff=3, showline=True, linecolor="#222222", linewidth=1.5, **grid)
    ya = dict(domain=ydom, range=yr, anchor=anchor_x, tickvals=yticks, ticktext=[str(v) for v in yticks], tickfont=tick9, tickangle=-90,
              ticks="outside", ticklen=7, tickcolor="#222222", ticklabelstandoff=3, showline=True, linecolor="#222222", linewidth=1.5, **grid)
    return xa, ya


xa1, ya1 = score_axes(xd(90.6, 551), yd(104, 564), [-119.7, 98], [-52.6, 81.6], [-100, -50, 0, 50], [-40, -20, 0, 20, 40, 60, 80], "x", "y")
xa2, ya2 = score_axes(xd(695.4, 1155.8), yd(104.3, 564.3), [-29.6, 27.5], [-62.4, 62.2], [-20, -10, 0, 10, 20], [-60, -40, -20, 0, 20, 40, 60], "x2", "y2")

hidden = dict(visible=False, showgrid=False, zeroline=False)
bold9 = dict(size=9.5, color="#222222", family=FONT)

layout_axes = dict(
    xaxis=xa1, yaxis=ya1, xaxis2=xa2, yaxis2=ya2,
    xaxis3=dict(domain=xd(1246.6, 1738.7), range=[-12.29, 10.79], anchor="y3", tickvals=[-10, -5, 0, 5, 10],
                ticktext=["-10", "-5", "0", "5", "10"], tickfont=dict(size=9.5, color="#222222", family=FONT), ticks="outside", ticklen=2,
                showgrid=False, zeroline=False),
    yaxis3=dict(domain=yd(65, 561.5), range=[-0.325, 6.93], anchor="x3", tickvals=[0, 1.3, 3, 6], ticktext=["0", "1.3", "3", "6"],
                tickfont=bold9, ticks="outside", ticklen=3, showgrid=False, zeroline=False),
    xaxis4=dict(domain=xd(898, 1854), range=[-0.5, 140.5], anchor="y4", **hidden),
    yaxis4=dict(domain=yd(800, 1187), categoryorder="array", categoryarray=heat_rows[::-1], anchor="x4", side="right", ticks="",
                ticklabelstandoff=5, showgrid=False, zeroline=False, tickfont=dict(size=11, color="#444444", family=FONT)),
    xaxis5=dict(domain=xd(897.5, 1189), range=[2.52, -2.52], anchor="y5", side="top", tickvals=colorbar_ticks,
                ticktext=["2", "1", "0", "\u22121", "\u22122"], tickangle=-90, ticks="", ticklabelstandoff=6, showgrid=False, zeroline=False,
                tickfont=dict(size=10, color="#444444", family=FONT)),
    yaxis5=dict(domain=yd(770, 790), anchor="x5", **hidden),
    xaxis6=dict(domain=xd(898, 1854), range=[-0.5, 140.5], anchor="y6", **hidden),
    yaxis6=dict(domain=yd(1187, 1295), range=[32.4, 0], anchor="x6", **hidden),
    xaxis7=dict(domain=xd(334, 802.5), range=[-1.101, 1.095], anchor="y7", tickvals=[-1, -0.5, 0, 0.5, 1],
                ticktext=["-1.0", "-0.5", "0.0", "0.5", "1.0"], tickfont=dict(size=12, color="#333333", family=FONT), ticks="outside", ticklen=3,
                showline=True, linecolor="#000000", linewidth=2.5, showgrid=False, zeroline=False),
    yaxis7=dict(domain=yd(1434, 1987), range=[9.6, -0.6], type="category", categoryorder="array", categoryarray=da_pathways, anchor="x7",
                tickfont=dict(size=13.6, color="#222222", family=FONT), ticks="outside", ticklen=3, showline=True, linecolor="#000000",
                linewidth=2.5, showgrid=False, zeroline=False),
    xaxis8=dict(domain=xd(1285, 1667), range=[0, 3.49], anchor="y8", **hidden),
    yaxis8=dict(domain=yd(1444.6, 1502), range=[0.59, -0.59], type="category", categoryorder="array", categoryarray=kegg_env, anchor="x8",
                tickfont=dict(size=14.3, color="#222222", family=FONT), ticks="outside", ticklen=3, showgrid=False, zeroline=False),
    xaxis9=dict(domain=xd(1285, 1667), range=[0, 3.49], anchor="y9", **hidden),
    yaxis9=dict(domain=yd(1509.6, 1862.6), range=[6.6, -0.6], type="category", categoryorder="array", categoryarray=kegg_met, anchor="x9",
                tickfont=dict(size=14.3, color="#222222", family=FONT), ticks="outside", ticklen=3, showgrid=False, zeroline=False),
    xaxis10=dict(domain=xd(1285, 1667), range=[0, 3.49], anchor="y10", tickvals=[0, 1, 2, 3], ticks="outside", ticklen=3, showgrid=False,
                 zeroline=False, tickfont=dict(size=11, color="#333333", family=FONT)),
    yaxis10=dict(domain=yd(1869, 1976.7), range=[1.585, -0.61], type="category", categoryorder="array", categoryarray=kegg_org, anchor="x10",
                 tickfont=dict(size=14.3, color="#222222", family=FONT), ticks="outside", ticklen=3, showgrid=False, zeroline=False),
    xaxis11=dict(domain=[0, 1], range=[0, W], anchor="y11", **hidden),
    yaxis11=dict(domain=[0, 1], range=[H, 0], anchor="x11", **hidden),
)

# plot background stays clear, the overlay axes would paint over the other panels
fig.update_layout(width=W, height=H, margin=dict(l=0, r=0, t=0, b=0), autosize=False, showlegend=False, hovermode=False,
                  paper_bgcolor="#ffffff", plot_bgcolor="rgba(0,0,0,0)", font=dict(family=FONT), annotations=annotations, shapes=shapes,
                  **layout_axes)

fig.write_html("out.html", post_script="document.body.style.margin='0';", config=dict(displayModeBar=False))
